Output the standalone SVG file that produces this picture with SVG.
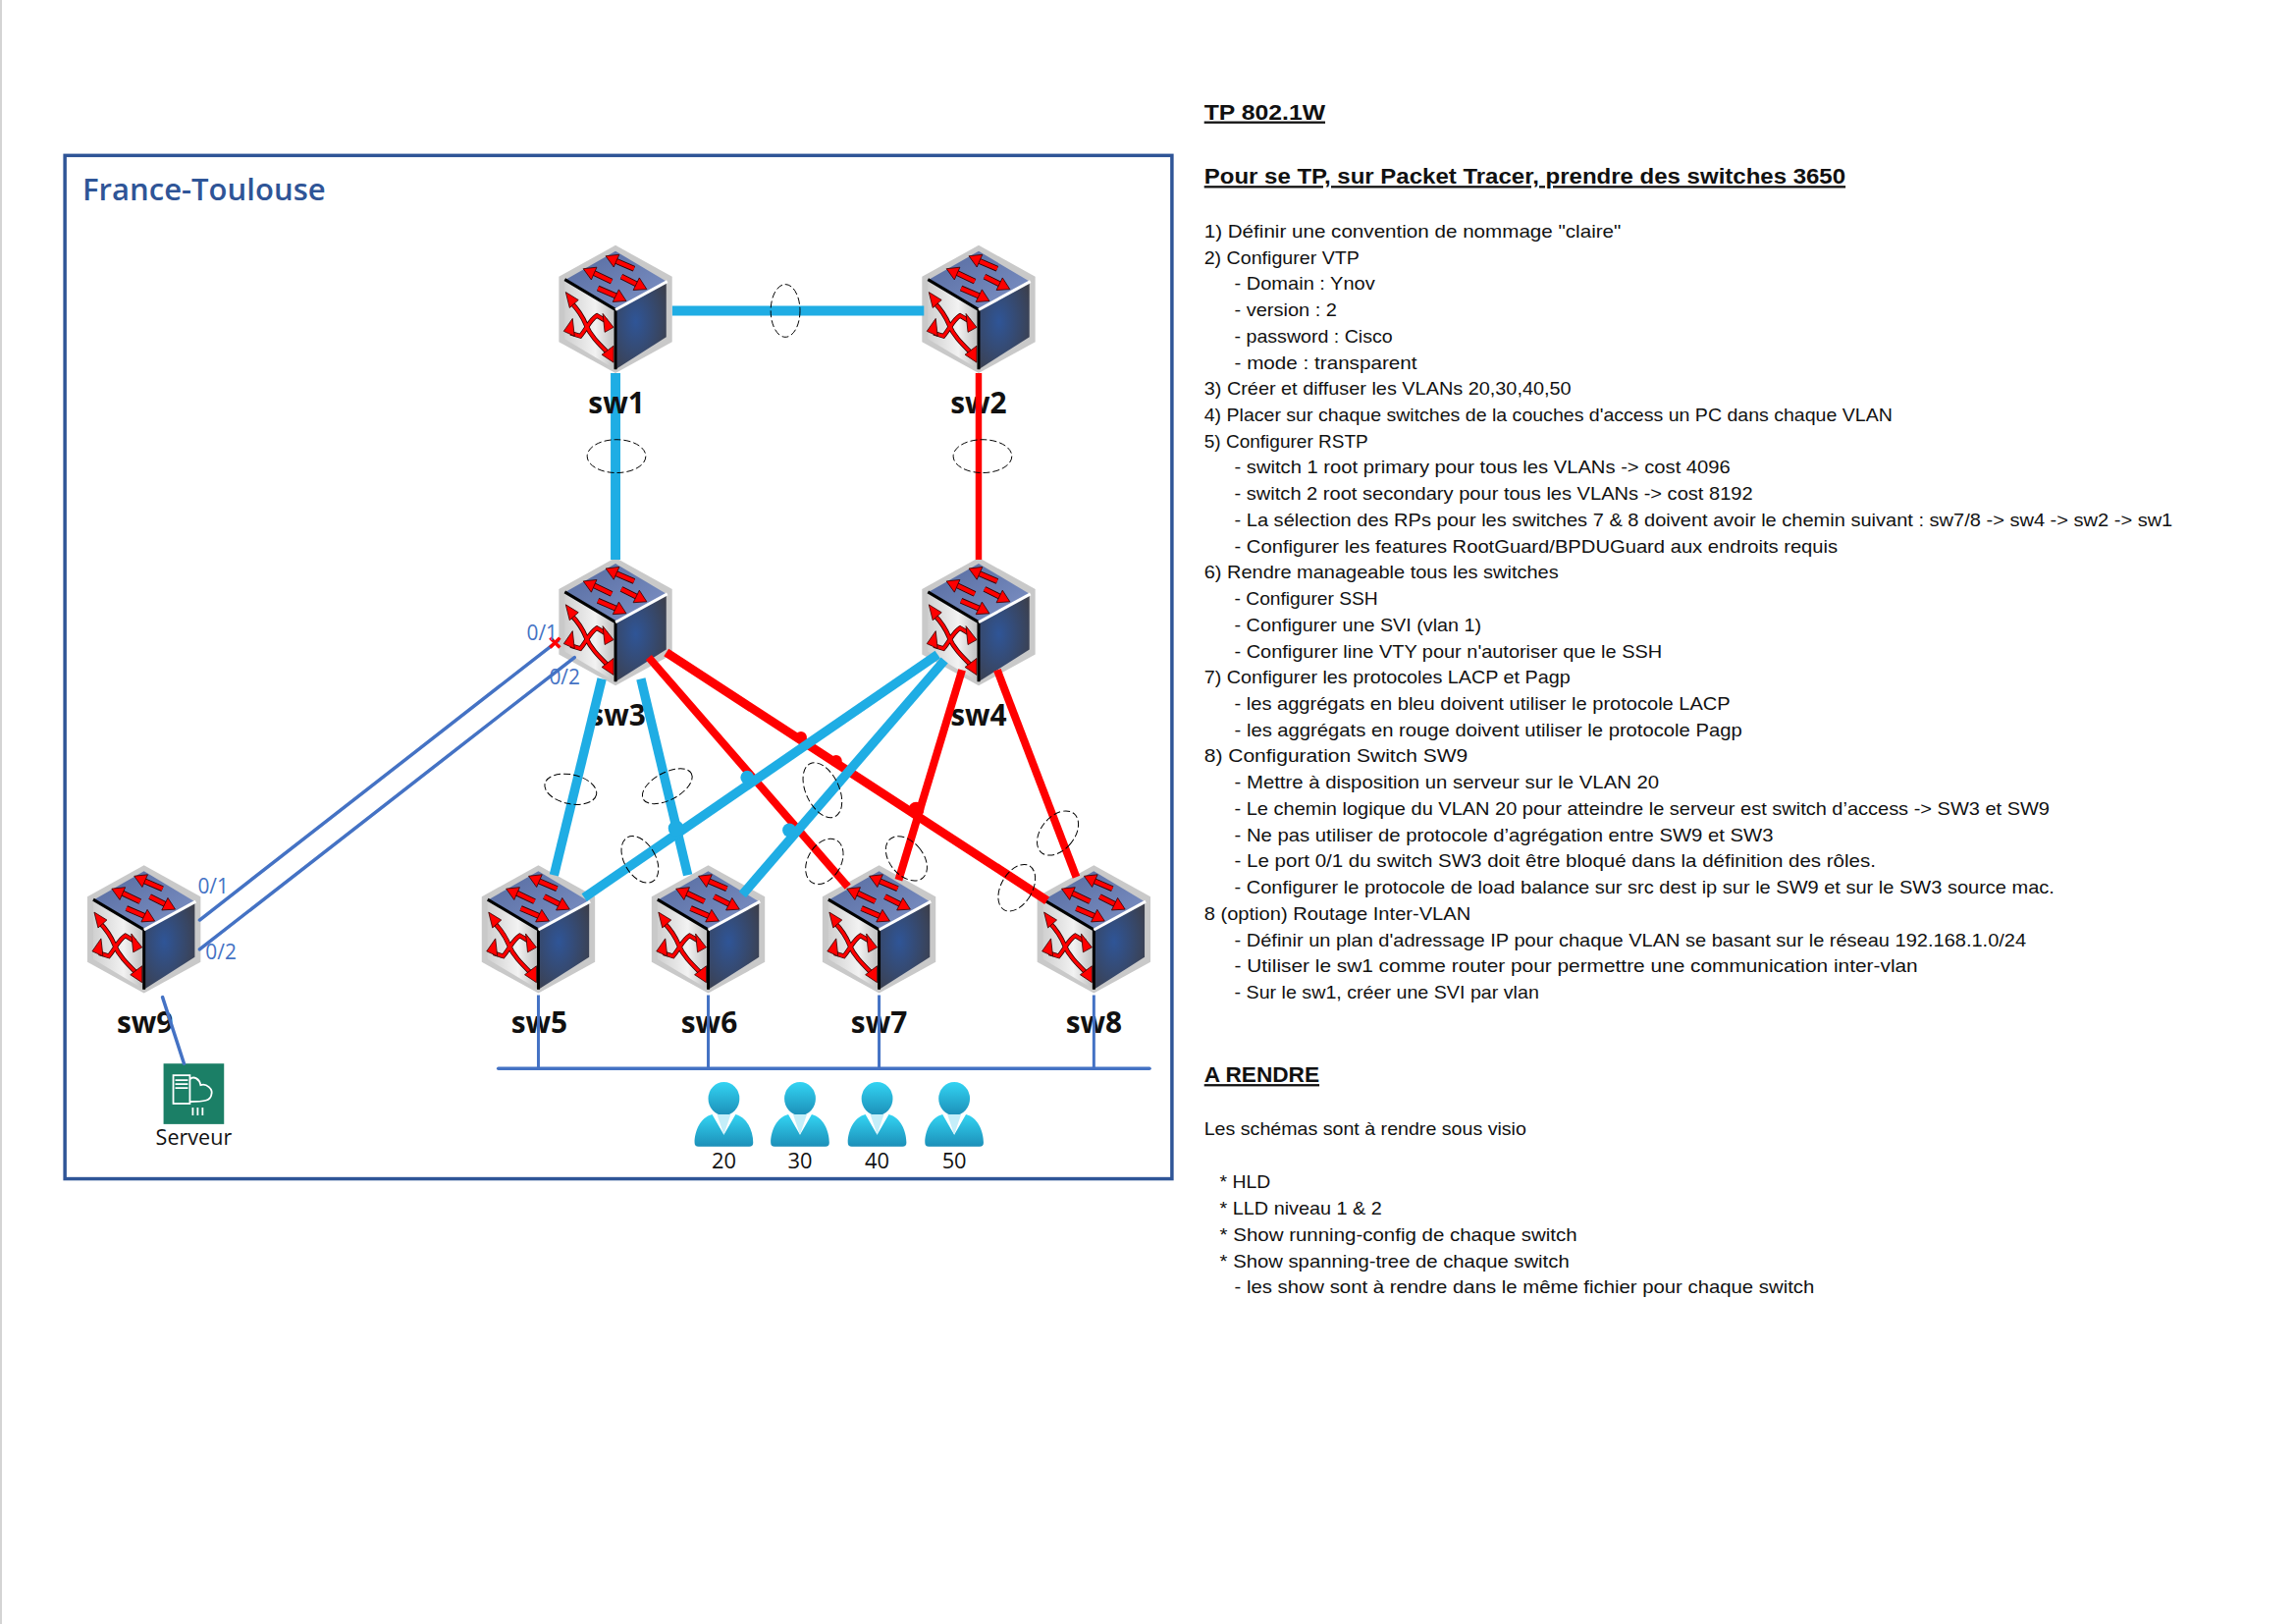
<svg xmlns="http://www.w3.org/2000/svg" width="2339" height="1654" viewBox="0 0 2339 1654">
<style>
.b{font:18px "Liberation Sans",Arial,sans-serif;fill:#111}
.h{font:bold 23px "Liberation Sans",Arial,sans-serif;fill:#111;text-decoration:underline}
.sw{font:700 30px "Open Sans",sans-serif;fill:#111;text-anchor:middle}
.p{font:21px "Open Sans",sans-serif;fill:#4472c4}
.n{font:22px "Open Sans",sans-serif;fill:#111;text-anchor:middle}
.blue{stroke:#1fade4;stroke-width:9.5;fill:none}
.red{stroke:#f00;stroke-width:8;fill:none}
.thin{stroke:#4472c4;stroke-width:3.5;fill:none;stroke-linecap:round}
.lag{fill:none;stroke:#000;stroke-width:1;stroke-dasharray:7 3}
.ar{stroke:#300;stroke-width:6;fill:none}
.ai{stroke:#f00;stroke-width:4.2;fill:none}
.xr{stroke:#300;stroke-width:4.8;fill:none}
.xi{stroke:#f00;stroke-width:3.2;fill:none}
.ah{fill:#f00;stroke:#300;stroke-width:.8}
</style>
<defs>
<linearGradient id="gt" x1="0" y1="0" x2="1" y2="1"><stop offset="0" stop-color="#556a9f"/><stop offset="1" stop-color="#7f93c6"/></linearGradient>
<radialGradient id="gr" cx=".4" cy=".45" r=".7"><stop offset="0" stop-color="#2f5597"/><stop offset="1" stop-color="#3c3f4c"/></radialGradient>
<linearGradient id="gl" x1="0" y1="0" x2="1" y2="0"><stop offset="0" stop-color="#d0d0d0"/><stop offset=".6" stop-color="#f2f2f2"/><stop offset="1" stop-color="#bdbdbd"/></linearGradient>
<linearGradient id="gu" x1="0" y1="0" x2="0" y2="1"><stop offset="0" stop-color="#33d4f3"/><stop offset="1" stop-color="#1c8fb8"/></linearGradient>
<g id="switch">
<polygon points="0,0 58,32 58,99 0,131 -58,99 -58,32" fill="#c9c9c9"/>
<polygon points="0,66 -52,36 -52,96 0,127" fill="url(#gl)"/>
<polygon points="0,6 52,37 0,66 -51,35" fill="url(#gt)"/>
<polygon points="0,66 52,38 52,94 0,127" fill="url(#gr)"/>
<polyline points="-52,35 0,66 0,127" fill="none" stroke="#000" stroke-width="3"/>
<line x1="0" y1="66" x2="53" y2="37" stroke="#fff" stroke-width="3"/>
<path class="ar" d="M19,24L-2,15M-4,37L-25,27M6,32L24,41M-18,44L3,53"/>
<path class="ai" d="M19,24L-2,15M-4,37L-25,27M6,32L24,41M-18,44L3,53"/>
<polygon class="ah" points="-10,11 3.8,9.5 -1.8,22.3"/>
<polygon class="ah" points="-33,24 -19.2,22.5 -24.8,35.3"/>
<polygon class="ah" points="32,45 18.2,45.9 24.4,33.3"/>
<polygon class="ah" points="11,57 -2.8,57.9 3.4,45.3"/>
<path class="xr" d="M-46,58C-38,66-34,72-30,82S-18,100-8,110M-46,90L-36,93C-30,86-26,76-19,72L-9,78"/>
<path class="xi" d="M-46,58C-38,66-34,72-30,82S-18,100-8,110M-46,90L-36,93C-30,86-26,76-19,72L-9,78"/>
<polygon class="ah" points="-51,48 -47,64 -38,56"/>
<polygon class="ah" points="-2,120 -2,103 -14,112"/>
<polygon class="ah" points="-53,88 -44,75 -42,93"/>
<polygon class="ah" points="-2,84 -13,70 -11,89"/>
</g>
<g id="user">
<ellipse cx="0" cy="17" rx="16" ry="17" fill="url(#gu)"/>
<path d="M-12,33C-24,36-30,50-30,62Q-30,66-26,66H26Q30,66 30,62C30,50 24,36 12,33L0,54Z" fill="url(#gu)"/>
<path d="M-7,33H7L0,54Z" fill="#c4eef9"/>
</g>
</defs>
<rect width="2339" height="1654" fill="#fff"/>
<line x1="1" y1="0" x2="1" y2="1654" stroke="#d4d4d4" stroke-width="2"/>
<g transform="translate(0.5 1.2) scale(.9945)">
<g id="frame">
<rect x="66" y="158" width="1134" height="1048" fill="none" stroke="#2f5597" stroke-width="3.5"/>
<text x="84" y="204" font-family="'Open Sans',sans-serif" font-weight="600" font-size="31" fill="#2f5597" textLength="249" lengthAdjust="spacingAndGlyphs">France-Toulouse</text>
</g>
<g id="sw2"><use href="#switch" x="1002" y="250"/><text class="sw" x="1002" y="422">sw2</text></g>
<g id="sw3"><use href="#switch" x="630" y="570"/><text class="sw" x="632" y="742">sw3</text></g>
<g id="sw4"><use href="#switch" x="1002" y="570"/><text class="sw" x="1002" y="742">sw4</text></g>
<g id="sw5"><use href="#switch" x="551" y="885"/><text class="sw" x="552" y="1057">sw5</text></g>
<g id="sw6"><use href="#switch" x="725" y="885"/><text class="sw" x="726" y="1057">sw6</text></g>
<g id="sw7"><use href="#switch" x="900" y="885"/><text class="sw" x="900" y="1057">sw7</text></g>
<g id="sw8"><use href="#switch" x="1120" y="885"/><text class="sw" x="1120" y="1057">sw8</text></g>
<g id="sw9"><use href="#switch" x="147" y="885"/><text class="sw" x="148" y="1057">sw9</text></g>
<g id="srv">
<rect x="167" y="1088" width="62" height="62" fill="#1b7f66"/>
<g fill="none" stroke="#fff" stroke-width="1.8">
<rect x="177" y="1100" width="17" height="29"/>
<path d="M179,1105H192M179,1109H192M179,1113H192" />
<path d="M194,1104C198,1100 204,1104 205,1110C211,1108 218,1114 216,1120C215,1126 209,1127 194,1127"/>
<path d="M197,1133V1141M202,1133V1141M207,1133V1141"/>
</g>
<text class="n" x="198" y="1171" style="font-size:21px" textLength="78" lengthAdjust="spacingAndGlyphs">Serveur</text>
</g>
<g id="users">
<use href="#user" x="741" y="1107"/><text class="n" x="741" y="1195">20</text>
<use href="#user" x="819" y="1107"/><text class="n" x="819" y="1195">30</text>
<use href="#user" x="898" y="1107"/><text class="n" x="898" y="1195">40</text>
<use href="#user" x="977" y="1107"/><text class="n" x="977" y="1195">50</text>
</g>
<g id="connectors">
<line class="thin" x1="204" y1="941" x2="571" y2="655"/>
<line class="thin" x1="204" y1="971" x2="588" y2="672"/>
<path d="M563,652L573,662M573,652L563,662" stroke="#f00" stroke-width="3.5" fill="none"/>
<line class="thin" x1="166" y1="1020" x2="188" y2="1088"/>
<line class="thin" x1="510" y1="1093" x2="1177" y2="1093"/>
<path class="thin" style="stroke-width:3;stroke-linecap:butt" d="M551,1018V1093M725,1018V1093M900,1018V1093M1120,1018V1093"/>
<line class="blue" style="stroke-width:10" x1="688" y1="317" x2="946" y2="317"/>
<line class="blue" style="stroke-width:10" x1="630" y1="381" x2="630" y2="572"/>
<line class="red" style="stroke-width:6.5" x1="1002" y1="381" x2="1002" y2="572"/>
<line class="red" x1="664" y1="672" x2="868" y2="907"/>
<line class="red" style="stroke-width:9" x1="682" y1="667" x2="1072" y2="921"/>
<line class="red" x1="985" y1="685" x2="920" y2="900"/>
<line class="red" x1="1021" y1="685" x2="1102" y2="897"/>
<circle cx="820" cy="754" r="6" fill="#f00"/>
<circle cx="856" cy="778" r="6" fill="#f00"/>
<line class="blue" x1="616" y1="694" x2="567" y2="895"/>
<line class="blue" x1="656" y1="694" x2="704" y2="895"/>
<line class="blue" x1="960" y1="669" x2="598" y2="918"/>
<line class="blue" x1="967" y1="675" x2="760" y2="915"/>
<circle cx="765" cy="795" r="7" fill="#1fade4"/>
<circle cx="692" cy="847" r="8" fill="#1fade4"/>
<circle cx="808" cy="849" r="7" fill="#1fade4"/>
<circle cx="938" cy="828" r="8" fill="#f00"/>
<ellipse class="lag" cx="804" cy="317" rx="15" ry="27"/>
<ellipse class="lag" cx="631" cy="466" rx="30" ry="17"/>
<ellipse class="lag" cx="1006" cy="466" rx="30" ry="17"/>
<ellipse class="lag" cx="584" cy="807" rx="27" ry="15" transform="rotate(12 584 807)"/>
<ellipse class="lag" cx="683" cy="804" rx="28" ry="14" transform="rotate(-28 683 804)"/>
<ellipse class="lag" cx="842" cy="808" rx="17" ry="30" transform="rotate(-25 842 808)"/>
<ellipse class="lag" cx="655" cy="879" rx="16" ry="26" transform="rotate(-30 655 879)"/>
<ellipse class="lag" cx="844" cy="881" rx="17" ry="25" transform="rotate(30 844 881)"/>
<ellipse class="lag" cx="928" cy="878" rx="17" ry="26" transform="rotate(-40 928 878)"/>
<ellipse class="lag" cx="1083" cy="852" rx="17" ry="26" transform="rotate(40 1083 852)"/>
<ellipse class="lag" cx="1041" cy="908" rx="16" ry="26" transform="rotate(30 1041 908)"/>
<text class="p" x="202" y="914">0/1</text>
<text class="p" x="210" y="981">0/2</text>
<text class="p" x="539" y="654">0/1</text>
<text class="p" x="562" y="700">0/2</text>
</g>
<g id="sw1"><use href="#switch" x="630" y="250"/><text class="sw" x="631" y="422">sw1</text></g>
<g id="instructions">
<text class="h" x="1233" y="121" textLength="124" lengthAdjust="spacingAndGlyphs">TP 802.1W</text>
<text class="h" x="1233" y="187" textLength="657" lengthAdjust="spacingAndGlyphs">Pour se TP, sur Packet Tracer, prendre des switches 3650</text>
<text class="b" x="1233" y="242" textLength="427" lengthAdjust="spacingAndGlyphs">1) Définir une convention de nommage "claire"</text>
<text class="b" x="1233" y="268.9" textLength="159" lengthAdjust="spacingAndGlyphs">2) Configurer VTP</text>
<text class="b" x="1264" y="295.8" textLength="144" lengthAdjust="spacingAndGlyphs">- Domain : Ynov</text>
<text class="b" x="1264" y="322.6" textLength="105" lengthAdjust="spacingAndGlyphs">- version : 2</text>
<text class="b" x="1264" y="349.5" textLength="162" lengthAdjust="spacingAndGlyphs">- password : Cisco</text>
<text class="b" x="1264" y="376.4" textLength="187" lengthAdjust="spacingAndGlyphs">- mode : transparent</text>
<text class="b" x="1233" y="403.3" textLength="376" lengthAdjust="spacingAndGlyphs">3) Créer et diffuser les VLANs 20,30,40,50</text>
<text class="b" x="1233" y="430.2" textLength="705" lengthAdjust="spacingAndGlyphs">4) Placer sur chaque switches de la couches d'access un PC dans chaque VLAN</text>
<text class="b" x="1233" y="457" textLength="168" lengthAdjust="spacingAndGlyphs">5) Configurer RSTP</text>
<text class="b" x="1264" y="483.9" textLength="508" lengthAdjust="spacingAndGlyphs">- switch 1 root primary pour tous les VLANs -&gt; cost 4096</text>
<text class="b" x="1264" y="510.8" textLength="531" lengthAdjust="spacingAndGlyphs">- switch 2 root secondary pour tous les VLANs -&gt; cost 8192</text>
<text class="b" x="1264" y="537.7" textLength="961" lengthAdjust="spacingAndGlyphs">- La sélection des RPs pour les switches 7 &amp; 8 doivent avoir le chemin suivant : sw7/8 -&gt; sw4 -&gt; sw2 -&gt; sw1</text>
<text class="b" x="1264" y="564.6" textLength="618" lengthAdjust="spacingAndGlyphs">- Configurer les features RootGuard/BPDUGuard aux endroits requis</text>
<text class="b" x="1233" y="591.4" textLength="363" lengthAdjust="spacingAndGlyphs">6) Rendre manageable tous les switches</text>
<text class="b" x="1264" y="618.3" textLength="147" lengthAdjust="spacingAndGlyphs">- Configurer SSH</text>
<text class="b" x="1264" y="645.2" textLength="253" lengthAdjust="spacingAndGlyphs">- Configurer une SVI (vlan 1)</text>
<text class="b" x="1264" y="672.1" textLength="438" lengthAdjust="spacingAndGlyphs">- Configurer line VTY pour n'autoriser que le SSH</text>
<text class="b" x="1233" y="699" textLength="375" lengthAdjust="spacingAndGlyphs">7) Configurer les protocoles LACP et Pagp</text>
<text class="b" x="1264" y="725.8" textLength="508" lengthAdjust="spacingAndGlyphs">- les aggrégats en bleu doivent utiliser le protocole LACP</text>
<text class="b" x="1264" y="752.7" textLength="520" lengthAdjust="spacingAndGlyphs">- les aggrégats en rouge doivent utiliser le protocole Pagp</text>
<text class="b" x="1233" y="779.6" textLength="270" lengthAdjust="spacingAndGlyphs">8) Configuration Switch SW9</text>
<text class="b" x="1264" y="806.5" textLength="435" lengthAdjust="spacingAndGlyphs">- Mettre à disposition un serveur sur le VLAN 20</text>
<text class="b" x="1264" y="833.4" textLength="835" lengthAdjust="spacingAndGlyphs">- Le chemin logique du VLAN 20 pour atteindre le serveur est switch d’access -&gt; SW3 et SW9</text>
<text class="b" x="1264" y="860.2" textLength="552" lengthAdjust="spacingAndGlyphs">- Ne pas utiliser de protocole d’agrégation entre SW9 et SW3</text>
<text class="b" x="1264" y="887.1" textLength="657" lengthAdjust="spacingAndGlyphs">- Le port 0/1 du switch SW3 doit être bloqué dans la définition des rôles.</text>
<text class="b" x="1264" y="914" textLength="840" lengthAdjust="spacingAndGlyphs">- Configurer le protocole de load balance sur src dest ip sur le SW9 et sur le SW3 source mac.</text>
<text class="b" x="1233" y="940.9" textLength="273" lengthAdjust="spacingAndGlyphs">8 (option) Routage Inter-VLAN</text>
<text class="b" x="1264" y="967.8" textLength="811" lengthAdjust="spacingAndGlyphs">- Définir un plan d'adressage IP pour chaque VLAN se basant sur le réseau 192.168.1.0/24</text>
<text class="b" x="1264" y="994.6" textLength="700" lengthAdjust="spacingAndGlyphs">- Utiliser le sw1 comme router pour permettre une communication inter-vlan</text>
<text class="b" x="1264" y="1021.5" textLength="312" lengthAdjust="spacingAndGlyphs">- Sur le sw1, créer une SVI par vlan</text>
<text class="h" x="1233" y="1107" textLength="118" lengthAdjust="spacingAndGlyphs">A RENDRE</text>
<text class="b" x="1233" y="1161.5" textLength="330" lengthAdjust="spacingAndGlyphs">Les schémas sont à rendre sous visio</text>
<text class="b" x="1249" y="1215.5" textLength="52" lengthAdjust="spacingAndGlyphs">* HLD</text>
<text class="b" x="1249" y="1242.5" textLength="166" lengthAdjust="spacingAndGlyphs">* LLD niveau 1 &amp; 2</text>
<text class="b" x="1249" y="1269.5" textLength="366" lengthAdjust="spacingAndGlyphs">* Show running-config de chaque switch</text>
<text class="b" x="1249" y="1296.5" textLength="358" lengthAdjust="spacingAndGlyphs">* Show spanning-tree de chaque switch</text>
<text class="b" x="1264" y="1323.5" textLength="594" lengthAdjust="spacingAndGlyphs">- les show sont à rendre dans le même fichier pour chaque switch</text>
</g>
</g>
</svg>
